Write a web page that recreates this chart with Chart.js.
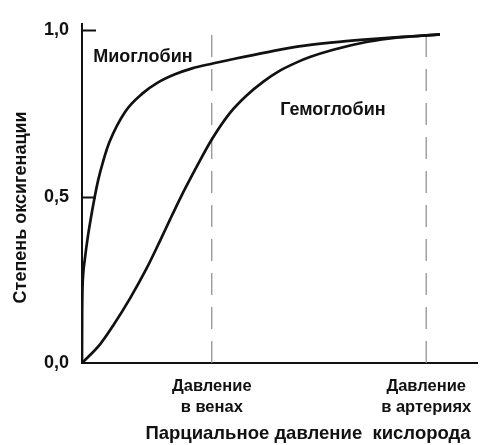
<!DOCTYPE html>
<html lang="ru">
<head>
<meta charset="utf-8">
<script src="https://cdn.jsdelivr.net/npm/chart.js@4.4.1/dist/chart.umd.min.js"></script>
<style>
  html, body { margin: 0; padding: 0; background: #fff; }
  canvas { display: block; }
</style>
</head>
<body>
<canvas id="oxyChart" width="484" height="445"></canvas>
<script>
// Partial pressure of O2 (relative units, arterial level = 100) and saturation
const mbPressure   = [0, 0.05, 0.3, 0.8, 1.7, 3.7, 4.7, 6.1, 8, 12.5, 17.5, 22, 27, 32, 37.7, 44, 54, 63, 73, 83, 92, 100, 104];
const mbSaturation = [0, 0.15, 0.26, 0.31, 0.38, 0.5, 0.55, 0.605, 0.665, 0.755, 0.81, 0.843, 0.868, 0.886, 0.9, 0.914, 0.935, 0.952, 0.964, 0.973, 0.98, 0.985, 0.988];

const hbPressure   = [0, 5.3, 9.2, 14, 18.8, 22.7, 25.6, 29, 31.4, 33.4, 37.7, 43, 47.9, 52.7, 57.5, 62.4, 66.2, 73, 83, 92, 100, 104];
const hbSaturation = [0, 0.057, 0.115, 0.195, 0.285, 0.368, 0.432, 0.505, 0.553, 0.592, 0.672, 0.752, 0.805, 0.846, 0.879, 0.904, 0.92, 0.942, 0.966, 0.979, 0.985, 0.988];

const yTickValues = [0, 0.5, 1.0];
const markerPressures = [37.7, 100];
const markerLabels = [['Давление', 'в венах'], ['Давление', 'в артериях']];
const curveNames = ['Миоглобин', 'Гемоглобин'];
const xTitle = 'Парциальное давление  кислорода';
const yTitle = 'Степень оксигенации';

const FONT = '"Liberation Sans", Arial, sans-serif';
const INK = '#111';

const toPoints = (xs, ys) => xs.map((x, i) => ({ x: x, y: ys[i] }));

// short ticks drawn inside the plot, axis titles and curve names
const annotate = {
    id: 'annotate',
    afterDraw(chart) {
        const { ctx, chartArea, scales } = chart;
        const x = scales.x, y = scales.y;
        ctx.save();

        ctx.strokeStyle = INK;
        ctx.lineWidth = 2;
        yTickValues.filter(v => v > 0).forEach(v => {
            const py = Math.round(y.getPixelForValue(v)) + 0.5;
            ctx.beginPath();
            ctx.moveTo(chartArea.left, py);
            ctx.lineTo(chartArea.left + 14, py);
            ctx.stroke();
        });

        ctx.fillStyle = INK;
        ctx.textAlign = 'center';
        ctx.textBaseline = 'alphabetic';
        ctx.font = 'bold 18px ' + FONT;
        ctx.fillText(curveNames[0], x.getPixelForValue(17.7), y.getPixelForValue(0.904));
        ctx.fillText(curveNames[1], x.getPixelForValue(72.9), y.getPixelForValue(0.746));

        ctx.font = 'bold 18.5px ' + FONT;
        ctx.fillText(xTitle, 308, 439);

        ctx.translate(26, (chartArea.top + chartArea.bottom) / 2 + 14);
        ctx.rotate(-Math.PI / 2);
        ctx.font = 'bold 18px ' + FONT;
        ctx.fillText(yTitle, 0, 0);

        ctx.restore();
    }
};

const ctx = document.getElementById('oxyChart').getContext('2d');
const oxyChart = new Chart(ctx, {
    type: 'scatter',
    data: {
        datasets: [
            {
                label: curveNames[0],
                data: toPoints(mbPressure, mbSaturation),
                showLine: true,
                borderColor: INK,
                borderWidth: 2.7,
                pointRadius: 0,
                cubicInterpolationMode: 'monotone'
            },
            {
                label: curveNames[1],
                data: toPoints(hbPressure, hbSaturation),
                showLine: true,
                borderColor: INK,
                borderWidth: 2.7,
                pointRadius: 0,
                cubicInterpolationMode: 'monotone'
            },
            {
                label: 'veins',
                data: [{ x: markerPressures[0], y: 0 }, { x: markerPressures[0], y: 1 }],
                showLine: true,
                borderColor: '#8a8a8a',
                borderWidth: 1.2,
                borderDash: [22, 12],
                pointRadius: 0
            },
            {
                label: 'arteries',
                data: [{ x: markerPressures[1], y: 0 }, { x: markerPressures[1], y: 1.02 }],
                showLine: true,
                borderColor: '#8a8a8a',
                borderWidth: 1.2,
                borderDash: [22, 12],
                pointRadius: 0
            }
        ]
    },
    options: {
        responsive: false,
        animation: false,
        layout: { padding: { top: 13, right: 6, left: 0, bottom: 0 } },
        plugins: {
            legend: { display: false },
            tooltip: { enabled: false }
        },
        scales: {
            x: {
                type: 'linear',
                min: 0,
                max: 115,
                grid: { display: false, drawTicks: false },
                border: { display: true, color: INK, width: 2 },
                afterBuildTicks: s => { s.ticks = markerPressures.map(v => ({ value: v })); },
                afterFit: s => { s.height = 82; },
                ticks: {
                    autoSkip: false,
                    maxRotation: 0,
                    padding: 12,
                    color: INK,
                    font: { family: FONT, size: 16.5, weight: 'bold', lineHeight: 1.33 },
                    callback: (v, i) => markerLabels[i]
                }
            },
            y: {
                type: 'linear',
                min: 0,
                max: 1.02,
                grid: { display: false, drawTicks: false },
                border: { display: true, color: INK, width: 2 },
                afterBuildTicks: s => { s.ticks = yTickValues.map(v => ({ value: v })); },
                afterFit: s => { s.width = 82; },
                ticks: {
                    padding: 13,
                    color: INK,
                    font: { family: FONT, size: 18, weight: 'bold' },
                    callback: v => v.toFixed(1).replace('.', ',')
                }
            }
        }
    },
    plugins: [annotate]
});
</script>
</body>
</html>
